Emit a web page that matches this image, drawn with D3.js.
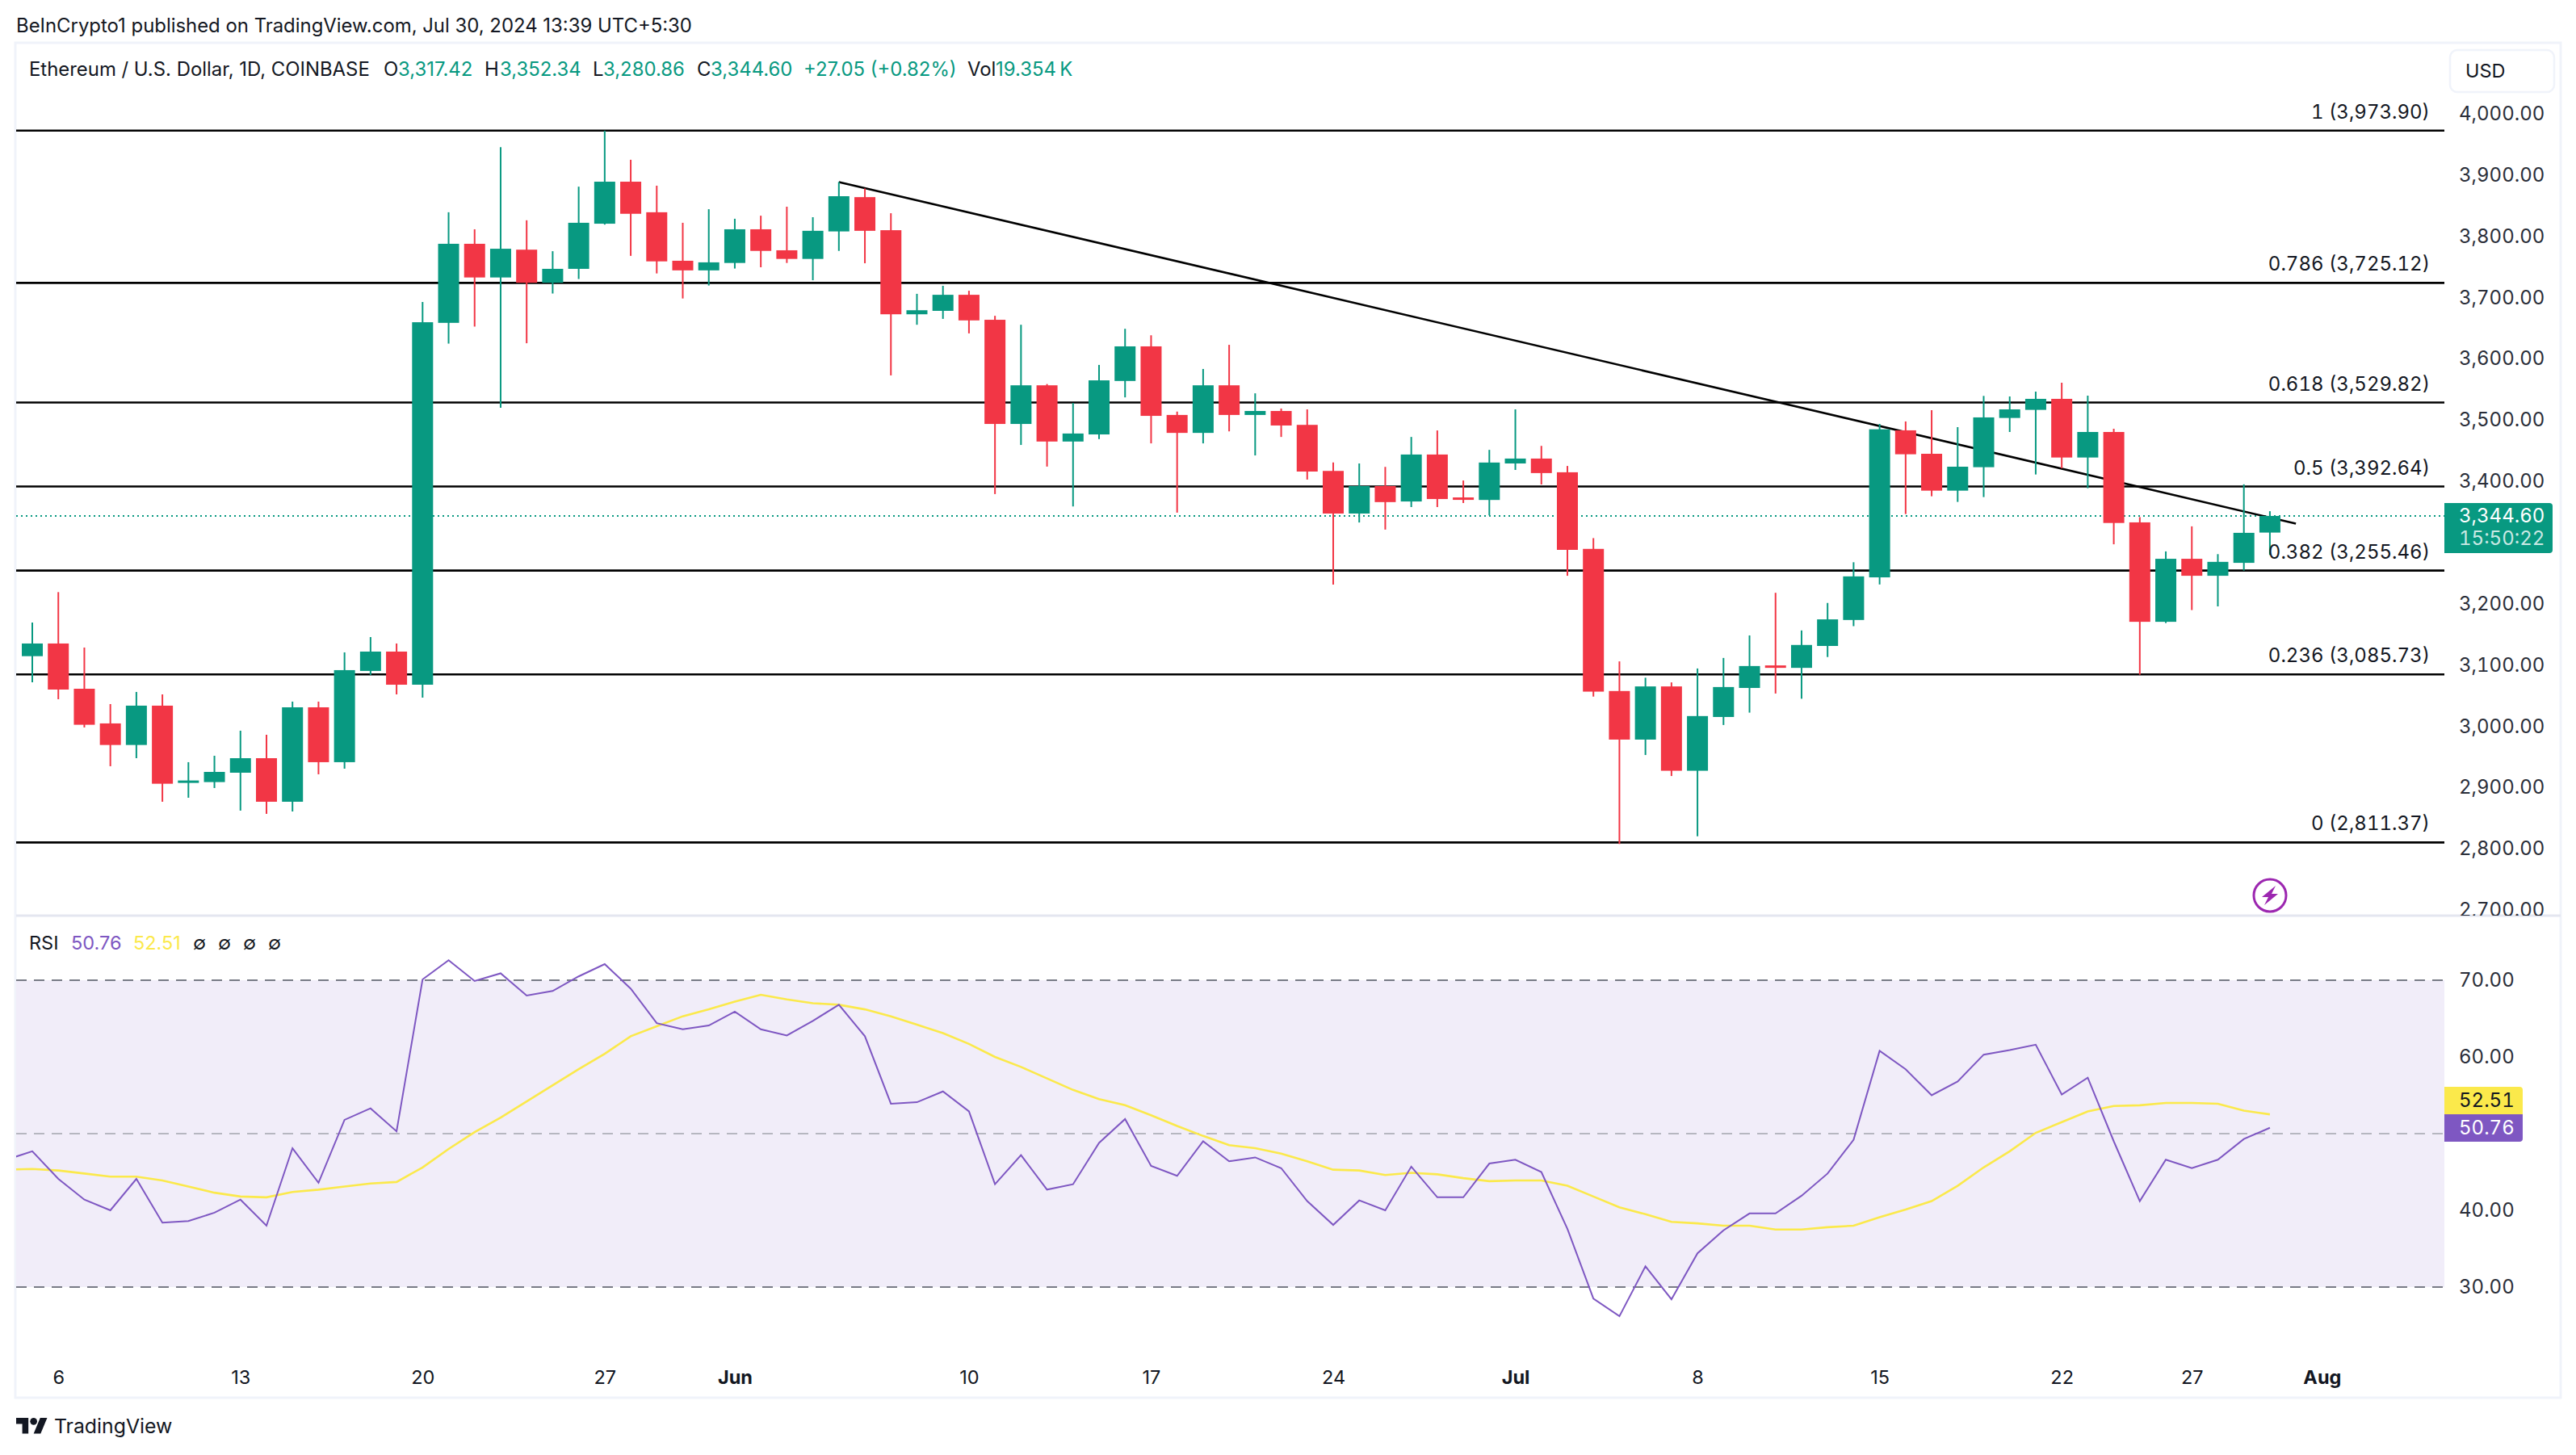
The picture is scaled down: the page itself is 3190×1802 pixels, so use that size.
<!DOCTYPE html>
<html><head><meta charset="utf-8">
<script src="https://cdnjs.cloudflare.com/ajax/libs/d3/7.8.5/d3.min.js"></script>
<style>
html,body{margin:0;padding:0;background:#fff}
svg{display:block}
text{font-family:Inter,"Noto Sans",sans-serif}
.tnum{font-variant-numeric:tabular-nums}
</style></head><body><div id="c"></div>
<script>
const firstDay = "2024-05-05";
const opens = [3115.6,3136.3,3062.4,3005.8,2970.6,3034.8,2910,2910,2925.3,2949,
2877.9,3032.1,2942.5,3091.5,3123.1,3069,3659.9,3789,3734,3779.4,
3725.4,3748.1,3821.8,3890.4,3840.5,3761.3,3745.6,3757.7,3812.7,3778.4,
3764.3,3809.2,3865.2,3811.2,3673.9,3679.5,3705.7,3664.9,3494.8,3557.9,
3466.1,3477.7,3565,3621.5,3509.5,3480.2,3557.9,3509.5,3516,3493.3,
3418.1,3348.5,3393.4,3368.2,3444.9,3374.8,3370.7,3430.3,3438.3,3415.9,
3290.8,3058.7,2979.4,3066.2,2928.5,3016.3,3063.7,3100.5,3096.5,3132.3,
3174.7,3244.3,3484.4,3446.1,3385.9,3424.2,3504.6,3517.8,3535.8,3440,
3481.7,3334.1,3171.7,3274.6,3246.9,3268,3317.42];
const closes = [3136.3,3061.1,3003.6,2970.6,3034.8,2907.3,2912.6,2926.6,2949,2877.9,
3032.1,2942.5,3092.8,3123.1,3069,3660.9,3789,3734,3780.9,3725.4,
3748.1,3823.3,3890.4,3838,3760.3,3745.6,3758.7,3812.7,3777.4,3764.3,
3810.2,3866.7,3810.2,3673.9,3680.5,3705.7,3663.9,3494.8,3557.9,3466.1,
3479.2,3566,3621.5,3508,3480.2,3557.9,3509.5,3516,3492.3,3417.1,
3348.5,3393.4,3367.2,3444.9,3372.2,3372.2,3431.8,3438.3,3414.6,3289.2,
3057.7,2979.4,3066.2,2928.5,3017.8,3065.2,3099.5,3098.5,3133.9,3175.7,
3245.9,3486.1,3445.3,3385.9,3425,3505.5,3518.6,3535.8,3440,3481.7,
3333.1,3171.7,3274.6,3246.9,3269.6,3317,3344.6];
const highs = [3170.6,3220.2,3129.7,3037.4,3057.2,3053.2,2942.5,2953,2993.9,2987.3,
3041.4,3041.4,3121.8,3146.8,3136.3,3694.1,3840.5,3812.7,3946.9,3827.4,
3776.9,3882.3,3973.7,3926.2,3883.9,3823.3,3845.5,3829.9,3834.9,3849.6,
3832.4,3889.9,3879.3,3838.9,3707.3,3720.4,3712.3,3671.4,3656.8,3560,
3529.1,3591.2,3650.2,3639.6,3515,3584.6,3624,3544.8,3520,3518.6,
3431.8,3430.3,3424.7,3473.6,3484.2,3402.5,3452.5,3518.6,3459,3426.2,
3308.4,3107.1,3080.4,3072.8,3095.5,3112.7,3149.5,3219.1,3157.6,3202.5,
3269,3494.9,3498.9,3517.3,3489.6,3540.6,3539.7,3547.6,3562.1,3541,
3487,3342.7,3286.7,3327.6,3282.2,3396.2,3352.34];
const lows = [3073,3045.3,2999.2,2935.9,2949,2877.9,2884.4,2900.3,2863.4,2858.1,
2862,2922.7,2931.9,3084.9,3053.2,3047.9,3626,3653.8,3521.1,3626.6,
3707.8,3731.5,3820.3,3769.3,3740.6,3699.7,3720.9,3748.6,3750.7,3757.7,
3729.5,3777.4,3757.2,3574.1,3656.8,3666.4,3642.7,3380.3,3460.5,3425.2,
3360.1,3470.1,3538.2,3463.1,3350,3463.1,3482.7,3443.4,3473.6,3404,
3232.5,3333.9,3322.3,3359.1,3359.1,3365.7,3345.5,3419.7,3396,3246.9,
3049.6,2808.9,2954.2,2919.9,2821.5,3003.2,3023.4,3054.6,3046.1,3114.2,
3164.6,3232.7,3347.7,3376.7,3367.5,3375.4,3481.7,3412.3,3422.4,3389.9,
3298.3,3085.4,3169.7,3190.9,3196.9,3255.4,3280.86];
// first RSI entry belongs to the day before firstDay (clipped by the pane edge)
const rsi = [46.6,47.7,44.1,41.4,40,44.1,38.4,38.6,39.7,41.4,38,
48.1,43.6,51.8,53.3,50.3,70.1,72.6,69.9,70.9,68,
68.6,70.5,72.1,68.9,64.4,63.6,64.1,65.9,63.6,62.8,
64.7,66.8,62.7,53.9,54.1,55.5,52.9,43.4,47.2,42.7,
43.4,48.8,51.9,45.8,44.5,49,46.4,46.9,45.5,41.2,
38.1,41.3,40,45.7,41.7,41.7,46.1,46.6,45,37.6,
28.5,26.2,32.7,28.4,34.4,37.4,39.6,39.6,41.9,44.8,
49.2,60.8,58.4,55,56.8,60.3,60.9,61.6,55.1,57.3,
49,41.2,46.6,45.5,46.6,49.3,50.76];
const rsiMA = [45.3,45.4,45.2,44.8,44.4,44.4,43.9,43.1,42.3,41.8,41.7,
42.4,42.7,43.1,43.5,43.7,45.6,48,50.2,52.1,54.2,
56.3,58.4,60.4,62.7,64,65.3,66.2,67.2,68.1,67.5,
67,66.8,66.2,65.3,64.2,63.1,61.7,60,58.7,57.2,
55.7,54.5,53.7,52.4,51,49.7,48.5,48.1,47.4,46.4,
45.3,45.2,44.6,44.9,44.7,44.2,43.8,43.9,43.9,43.2,
41.8,40.4,39.5,38.5,38.3,38,38,37.5,37.5,37.8,
38,39.1,40.1,41.2,43.2,45.6,47.7,50.1,51.5,52.9,
53.6,53.7,54,54,53.9,53,52.51];
const fibRatios = ["1","0.786","0.618","0.5","0.382","0.236","0"];
const fibLevels = [3973.90,3725.12,3529.82,3392.64,3255.46,3085.73,2811.37];
const priceTicks = [4000,3900,3800,3700,3600,3500,3400,3200,3100,3000,2900,2800,2700];
const rsiTicks = [70,60,40,30];
const rsiGuides = [70,50,30];
const lastClose = 3344.60;
const countdown = "15:50:22";
const trendStart = [31,3889.9];
const trendEnd = [87,3332];
const timeLabels = ["6","13","20","27","Jun","10","17","24","Jul","8","15","22","27","Aug"];
const timeLabelDays = [1,8,15,22,27,36,43,50,57,64,71,78,83,88];
const boldLabels = ["Jun","Jul","Aug"];

const W=3190,H=1802,L=20,R=3027,FR=3171,TOP=53,SEP=1134,BOT=1731;
const UP="#089981",DN="#F23645",INK="#131722",PUR="#7E57C2",YEL="#FBE94B";
const dayMs=864e5,d0=+new Date(firstDay+"T00:00:00Z");
const day=i=>new Date(d0+i*dayMs);
const x=d3.scaleUtc().domain([day(0),day(88)]).range([40,40+32.22*88]);
const y=d3.scaleLinear().domain([2811.37,3973.9]).range([1043.4,161.7]);
const yr=d3.scaleLinear().domain([30,70]).range([1594,1214]);
const svg=d3.select("#c").append("svg").attr("width",W).attr("height",H).attr("viewBox",`0 0 ${W} ${H}`);
const defs=svg.append("defs");
defs.append("clipPath").attr("id","pane").append("rect").attr("x",L).attr("y",TOP).attr("width",R-L).attr("height",BOT-TOP);
defs.append("clipPath").attr("id","axclip").append("rect").attr("x",R).attr("y",TOP).attr("width",FR-R).attr("height",SEP-TOP);
svg.append("rect").attr("width",W).attr("height",H).attr("fill","#fff");

// header
svg.append("text").attr("x",20).attr("y",40).attr("font-size",23.9).attr("fill",INK)
 .text("BeInCrypto1 published on TradingView.com, Jul 30, 2024 13:39 UTC+5:30");

// frame
svg.append("rect").attr("x",L-1).attr("y",TOP).attr("width",FR-L+1).attr("height",BOT-TOP).attr("fill","none").attr("stroke","#f0f3fa").attr("stroke-width",3);
svg.append("line").attr("x1",L).attr("x2",FR).attr("y1",SEP).attr("y2",SEP).attr("stroke","#e4e6f0").attr("stroke-width",3);

// legend
const legendItems=[["Ethereum / U.S. Dollar, 1D, COINBASE",36,INK],["O",475,INK],["3,317.42",493,UP],["H",600,INK],["3,352.34",619,UP],["L",734,INK],["3,280.86",747,UP],["C",863,INK],["3,344.60",880,UP],["+27.05 (+0.82%)",995,UP],["Vol",1198,INK],["19.354\u2009K",1233,UP]];
svg.append("g").selectAll("text").data(legendItems).join("text").attr("x",d=>d[1]).attr("y",94).attr("font-size",23.9).attr("fill",d=>d[2]).text(d=>d[0]);

// USD box
svg.append("rect").attr("x",3034).attr("y",62).attr("width",129).attr("height",52).attr("rx",9).attr("fill","#fff").attr("stroke","#f0f3fa").attr("stroke-width",2.5);
svg.append("text").attr("x",3053).attr("y",96).attr("font-size",23.5).attr("fill",INK).text("USD");

const plot=svg.append("g").attr("clip-path","url(#pane)");
// RSI band
plot.append("rect").attr("x",L).attr("width",R-L).attr("y",yr(70)).attr("height",yr(30)-yr(70)).attr("fill","#f1edf9");
plot.append("g").selectAll("line").data(rsiGuides).join("line")
 .attr("x1",L).attr("x2",R).attr("y1",d=>yr(d)).attr("y2",d=>yr(d))
 .attr("stroke",d=>d===50?"#b6b7c0":"#787B86").attr("stroke-width",2).attr("stroke-dasharray","13 9");

// fib levels
plot.append("g").selectAll("line").data(fibLevels).join("line")
 .attr("x1",L).attr("x2",R).attr("y1",d=>y(d)).attr("y2",d=>y(d)).attr("stroke","#000").attr("stroke-width",2.6);

// last price dotted + trend
plot.append("line").attr("x1",L).attr("x2",R).attr("y1",y(lastClose)).attr("y2",y(lastClose)).attr("stroke",UP).attr("stroke-width",2).attr("stroke-dasharray","2 4");
plot.append("line").attr("x1",x(day(trendStart[0]))).attr("y1",y(trendStart[1])).attr("x2",x(day(trendEnd[0]))).attr("y2",y(trendEnd[1])).attr("stroke","#000").attr("stroke-width",2.6);

// candles
const days=d3.range(opens.length);
const col=i=>closes[i]>=opens[i]?UP:DN;
const cg=plot.append("g");
cg.selectAll("line").data(days).join("line")
 .attr("x1",i=>x(day(i))).attr("x2",i=>x(day(i))).attr("y1",i=>y(highs[i])).attr("y2",i=>y(lows[i])).attr("stroke",col).attr("stroke-width",2);
cg.selectAll("rect").data(days).join("rect")
 .attr("x",i=>x(day(i))-13).attr("width",26)
 .attr("y",i=>y(Math.max(opens[i],closes[i])))
 .attr("height",i=>Math.max(3,Math.abs(y(opens[i])-y(closes[i])))).attr("fill",col);

// fib labels (drawn above candles, as in the chart)
svg.append("g").selectAll("text").data(fibLevels).join("text").attr("class","tnum")
 .attr("x",3009).attr("y",d=>y(d)-15).attr("text-anchor","end").attr("font-size",24).attr("fill",INK)
 .text((d,i)=>`${fibRatios[i]} (${d3.format(",.2f")(d)})`);

// RSI
const ln=d3.line().x((d,i)=>x(day(i-1))).y(d=>yr(d));
plot.append("path").attr("d",ln(rsiMA)).attr("fill","none").attr("stroke",YEL).attr("stroke-width",2.6);
plot.append("path").attr("d",ln(rsi)).attr("fill","none").attr("stroke",PUR).attr("stroke-width",2);

// price axis
const pa=svg.append("g").attr("clip-path","url(#axclip)").append("g").attr("transform",`translate(${R+18},-1)`)
 .call(d3.axisRight(y).tickValues(priceTicks).tickSize(0).tickPadding(0).tickFormat(d3.format(",.2f")));
pa.select(".domain").remove();
pa.selectAll("text").attr("class","tnum").attr("font-size",24).attr("font-family","Inter").attr("fill","#2a2e39");
const ra=svg.append("g").attr("transform",`translate(${R+18},0)`)
 .call(d3.axisRight(yr).tickValues(rsiTicks).tickSize(0).tickPadding(0).tickFormat(d3.format(".2f")));
ra.select(".domain").remove();
ra.selectAll("text").attr("class","tnum").attr("font-size",24).attr("font-family","Inter").attr("fill","#2a2e39");

// last price tag
svg.append("path").attr("d",`M${R},623H3157a4,4 0 0 1 4,4V681a4,4 0 0 1 -4,4H${R}Z`).attr("fill",UP);
svg.append("text").attr("class","tnum").attr("x",3045).attr("y",647).attr("font-size",24).attr("fill","#fff").text(d3.format(",.2f")(lastClose));
svg.append("text").attr("class","tnum").attr("x",3045).attr("y",675).attr("font-size",24).attr("fill","#fff").attr("fill-opacity",.8).text(countdown);

// RSI tags
const lastMA=rsiMA[rsiMA.length-1],lastRsi=rsi[rsi.length-1];
svg.append("path").attr("d",`M${R},1346H3120a4,4 0 0 1 4,4V1380H${R}Z`).attr("fill",YEL);
svg.append("path").attr("d",`M${R},1380H3124V1410a4,4 0 0 1 -4,4H${R}Z`).attr("fill",PUR);
svg.append("text").attr("class","tnum").attr("x",3045).attr("y",1371).attr("font-size",24).attr("fill",INK).text(lastMA.toFixed(2));
svg.append("text").attr("class","tnum").attr("x",3045).attr("y",1405).attr("font-size",24).attr("fill","#fff").text(lastRsi.toFixed(2));

// RSI legend
const rsiLegend=[["RSI",36,INK],[lastRsi.toFixed(2),88,PUR],[lastMA.toFixed(2),165,YEL],["\u2205",239,INK],["\u2205",270,INK],["\u2205",301,INK],["\u2205",332,INK]];
svg.append("g").selectAll("text").data(rsiLegend).join("text").attr("x",d=>d[1]).attr("y",1176).attr("font-size",23.5).attr("fill",d=>d[2]).text(d=>d[0]);

// time axis
const ta=svg.append("g").attr("transform","translate(0,1697)")
 .call(d3.axisBottom(x).tickValues(timeLabelDays.map(day)).tickSize(0).tickPadding(0).tickFormat((d,i)=>timeLabels[i]));
ta.select(".domain").remove();
ta.selectAll("text").attr("font-size",23.5).attr("font-family","Inter").attr("fill",INK)
 .attr("font-weight",(d,i)=>boldLabels.includes(timeLabels[i])?700:400);

// bolt icon
const bolt=svg.append("g").attr("transform","translate(2811,1109)");
bolt.append("circle").attr("r",20).attr("fill","#fff").attr("stroke","#9C27B0").attr("stroke-width",3);
bolt.append("path").attr("d","M7,-12 L-10,2 L-2,2 L-7,12 L10,-2 L2,-2 Z").attr("fill","#9C27B0");

// logo
const logo=svg.append("g").attr("transform","translate(20,1751.7) scale(1.083)").attr("fill",INK);
logo.append("path").attr("d","M14 22H7V11H0V4h14v18zM28 22h-8l7.5-18h8L28 22z");
logo.append("circle").attr("cx",20).attr("cy",8).attr("r",4);
svg.append("text").attr("x",67).attr("y",1775).attr("font-size",24.8).attr("font-weight",400).attr("fill",INK).text("TradingView");
</script></body></html>
